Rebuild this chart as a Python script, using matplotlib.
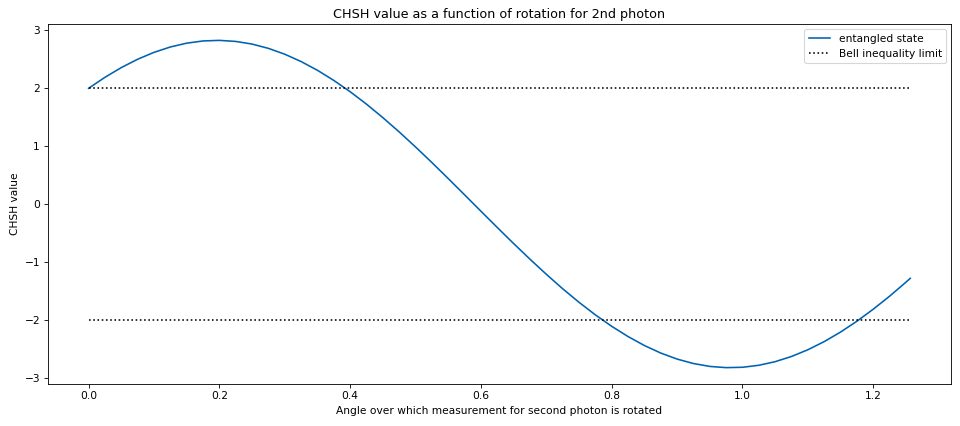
import matplotlib
matplotlib.use("Agg")
import matplotlib.pyplot as plt

angle = [0.0, 0.025, 0.05, 0.075, 0.1, 0.125, 0.15, 0.175, 0.2, 0.225, 0.25,
         0.275, 0.3, 0.325, 0.35, 0.375, 0.4, 0.425, 0.45, 0.475, 0.5,
         0.525, 0.55, 0.575, 0.6, 0.625, 0.65, 0.675, 0.7, 0.725, 0.75,
         0.775, 0.8, 0.825, 0.85, 0.875, 0.9, 0.925, 0.95, 0.975, 1.0,
         1.025, 1.05, 1.075, 1.1, 1.125, 1.15, 1.175, 1.2, 1.225, 1.25, 1.2566]
chsh = [2.000, 2.190, 2.358, 2.502, 2.621, 2.714, 2.780, 2.818, 2.828, 2.810, 2.764,
        2.690, 2.589, 2.462, 2.311, 2.136, 1.941, 1.726, 1.493, 1.246, 0.986,
        0.717, 0.440, 0.159, -0.124, -0.405, -0.683, -0.953, -1.214, -1.464, -1.698,
        -1.915, -2.113, -2.290, -2.445, -2.575, -2.679, -2.756, -2.806, -2.827, -2.821,
        -2.786, -2.724, -2.634, -2.518, -2.377, -2.212, -2.025, -1.817, -1.592, -1.350, -1.284]
limit_x = [0.0, 1.2566]
upper_limit = [2, 2]
lower_limit = [-2, -2]

fig = plt.figure(figsize=(12.5, 5.547), dpi=76.8)
ax = fig.add_axes([0.0495, 0.0986, 0.9415, 0.845])
ax.plot(angle, chsh, color="#0063b1", lw=1.5, label="entangled state")
ax.plot(limit_x, upper_limit, color="black", ls=":", lw=1.5, label="Bell inequality limit")
ax.plot(limit_x, lower_limit, color="black", ls=":", lw=1.5)
ax.set_title("CHSH value as a function of rotation for 2nd photon", fontsize=12)
ax.set_xlabel("Angle over which measurement for second photon is rotated", fontsize=10)
ax.set_ylabel("CHSH value", fontsize=10)
ax.tick_params(labelsize=10)
ax.legend(loc="upper right", fontsize=10)
fig.savefig("out.png", dpi=76.8)
